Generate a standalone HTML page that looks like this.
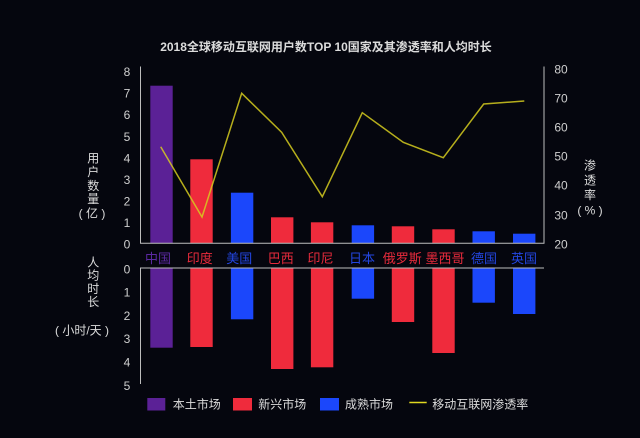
<!DOCTYPE html>
<html><head><meta charset="utf-8"><style>
html,body{margin:0;padding:0;background:#05060e;}
svg{display:block;}
text{font-family:"Liberation Sans","Noto Sans CJK SC",sans-serif;}
</style></head><body>
<svg width="640" height="438" viewBox="0 0 640 438" xmlns="http://www.w3.org/2000/svg">
<rect width="640" height="438" fill="#05060e"/>
<text x="326" y="51" text-anchor="middle" font-size="12" font-weight="bold" fill="#dcdcdc">2018全球移动互联网用户数TOP 10国家及其渗透率和人均时长</text>

<!-- top bars -->
<g>
<rect x="150.3" y="85.7" width="22.4" height="157.3" fill="#5b2196"/>
<rect x="190.3" y="159.3" width="22.4" height="83.7" fill="#ef2b3c"/>
<rect x="230.9" y="192.7" width="22.4" height="50.3" fill="#1b47fb"/>
<rect x="271" y="217.3" width="22.4" height="25.7" fill="#ef2b3c"/>
<rect x="310.9" y="222.3" width="22.4" height="20.7" fill="#ef2b3c"/>
<rect x="351.7" y="225.3" width="22.4" height="17.7" fill="#1b47fb"/>
<rect x="391.8" y="226.3" width="22.4" height="16.7" fill="#ef2b3c"/>
<rect x="432.3" y="229.3" width="22.4" height="13.7" fill="#ef2b3c"/>
<rect x="472.5" y="231.3" width="22.4" height="11.7" fill="#1b47fb"/>
<rect x="513" y="233.7" width="22.4" height="9.3" fill="#1b47fb"/>
</g>
<!-- top axes -->
<path d="M140.5 66.5 V243.3 H544 V66.5" fill="none" stroke="#bdbdbd" stroke-width="1"/>
<!-- left ticks -->
<g font-size="12" fill="#cfcfcf" text-anchor="middle">
<text x="127" y="76">8</text>
<text x="127" y="97.6">7</text>
<text x="127" y="119.2">6</text>
<text x="127" y="140.8">5</text>
<text x="127" y="162.4">4</text>
<text x="127" y="184">3</text>
<text x="127" y="205.6">2</text>
<text x="127" y="227.2">1</text>
<text x="127" y="248.6">0</text>
</g>
<!-- right ticks -->
<g font-size="12" fill="#cfcfcf" text-anchor="middle">
<text x="561" y="73.3">80</text>
<text x="561" y="102.3">70</text>
<text x="561" y="131.3">60</text>
<text x="561" y="160.3">50</text>
<text x="561" y="189.3">40</text>
<text x="561" y="219.3">30</text>
<text x="561" y="248.6">20</text>
</g>
<!-- penetration line -->
<polyline points="160.7,146.7 202,217 241.7,93.3 281.7,132.3 322.3,196.7 362.3,112.7 403.3,142.3 443.3,157.7 483.7,104 524.3,101" fill="none" stroke="#d6cc1e" stroke-opacity="0.85" stroke-width="1.5" stroke-linejoin="miter"/>

<!-- left axis title -->
<g font-size="12" fill="#dcdcdc" text-anchor="middle">
<text x="93.3" y="162.5">用</text>
<text x="93.3" y="176">户</text>
<text x="93.3" y="190">数</text>
<text x="93.3" y="203">量</text>
<text x="92" y="217.5">( 亿 )</text>
<text x="93.3" y="266.5">人</text>
<text x="93.3" y="279.5">均</text>
<text x="93.3" y="293">时</text>
<text x="93.3" y="306">长</text>
<text x="82" y="334.3">( 小时/天 )</text>
</g>
<!-- right axis title -->
<g font-size="12" fill="#dcdcdc" text-anchor="middle">
<text x="590" y="169.5">渗</text>
<text x="590" y="184.5">透</text>
<text x="590" y="199">率</text>
<text x="590" y="214.5">( % )</text>
</g>

<!-- country labels -->
<g font-size="13" text-anchor="middle">
<text x="158" y="262.8" fill="#5c2aa3">中国</text>
<text x="199.8" y="262.8" fill="#e82b3c">印度</text>
<text x="239.2" y="262.8" fill="#2346e0">美国</text>
<text x="280.7" y="262.8" fill="#e82b3c">巴西</text>
<text x="320.5" y="262.8" fill="#e82b3c">印尼</text>
<text x="362" y="262.8" fill="#2346e0">日本</text>
<text x="402.3" y="262.8" fill="#e82b3c">俄罗斯</text>
<text x="445" y="262.8" fill="#e82b3c">墨西哥</text>
<text x="484" y="262.8" fill="#2346e0">德国</text>
<text x="524" y="262.8" fill="#2346e0">英国</text>
</g>

<!-- bottom bars -->
<g>
<rect x="150.3" y="268.5" width="22.4" height="79.2" fill="#5b2196"/>
<rect x="190.3" y="268.5" width="22.4" height="78.5" fill="#ef2b3c"/>
<rect x="230.9" y="268.5" width="22.4" height="50.8" fill="#1b47fb"/>
<rect x="271" y="268.5" width="22.4" height="100.5" fill="#ef2b3c"/>
<rect x="310.9" y="268.5" width="22.4" height="98.8" fill="#ef2b3c"/>
<rect x="351.7" y="268.5" width="22.4" height="30.2" fill="#1b47fb"/>
<rect x="391.8" y="268.5" width="22.4" height="53.5" fill="#ef2b3c"/>
<rect x="432.3" y="268.5" width="22.4" height="84.5" fill="#ef2b3c"/>
<rect x="472.5" y="268.5" width="22.4" height="34.2" fill="#1b47fb"/>
<rect x="513" y="268.5" width="22.4" height="45.5" fill="#1b47fb"/>
</g>
<path d="M140.5 384 V268 H544" fill="none" stroke="#bdbdbd" stroke-width="1"/>
<g font-size="12" fill="#cfcfcf" text-anchor="middle">
<text x="127" y="273.3">0</text>
<text x="127" y="296.6">1</text>
<text x="127" y="319.9">2</text>
<text x="127" y="343.2">3</text>
<text x="127" y="366.5">4</text>
<text x="127" y="389.8">5</text>
</g>

<!-- legend -->
<rect x="147.3" y="398" width="18" height="12.5" fill="#5b2196"/>
<text x="172.7" y="408.5" font-size="12" fill="#dcdcdc">本土市场</text>
<rect x="233" y="398" width="19" height="12.5" fill="#ef2b3c"/>
<text x="258.3" y="408.5" font-size="12" fill="#dcdcdc">新兴市场</text>
<rect x="320" y="398" width="19" height="12.5" fill="#1b47fb"/>
<text x="345" y="408.5" font-size="12" fill="#dcdcdc">成熟市场</text>
<line x1="409.3" y1="402.5" x2="426.7" y2="402.5" stroke="#e0d820" stroke-width="1.5"/>
<text x="432.3" y="408.5" font-size="12" fill="#dcdcdc">移动互联网渗透率</text>
</svg>
</body></html>
